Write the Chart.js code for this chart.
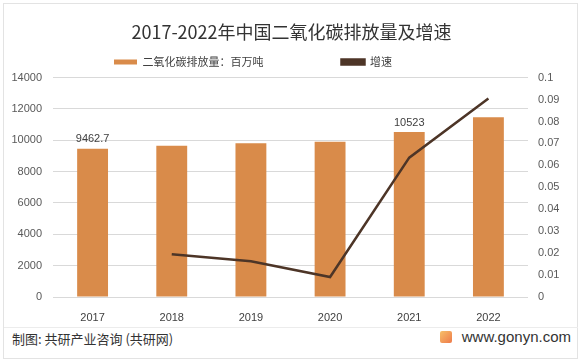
<!DOCTYPE html>
<html>
<head>
<meta charset="utf-8">
<script src="https://cdn.jsdelivr.net/npm/chart.js@4.4.0/dist/chart.umd.min.js"></script>
<style>
  html, body { margin: 0; padding: 0; background: #fff; }
  #wrap { position: relative; width: 583px; height: 364px; overflow: hidden; }
  #frame { position: absolute; left: 3px; top: 3px; width: 575px; height: 356px; border: 1px solid #e3e3e3; box-sizing: border-box; }
  #box { position: absolute; left: 0; top: 0; width: 583px; height: 327px; }
  #sep { position: absolute; left: 4px; right: 5px; top: 327px; border-top: 1px solid #ececec; }
  #src { position: absolute; left: 12px; top: 329px; font: 13px "Noto Sans CJK SC", sans-serif; color: #333; }
  #site { position: absolute; right: 12px; top: 328px; font: 15px "Liberation Sans", Arial, sans-serif; color: #333; }
  #logo { display: inline-block; width: 12px; height: 12px; background: linear-gradient(135deg, #f7c06a, #ee7a4a); border-radius: 2px; margin-right: 10px; vertical-align: -1px; }
</style>
</head>
<body>
<div id="wrap">
  <div id="frame"></div>
  <div id="box"><canvas id="myChart" width="583" height="327"></canvas></div>
  <div id="sep"></div>
  <div id="src">制图: 共研产业咨询 (共研网)</div>
  <div id="site"><span id="logo"></span>www.gonyn.com</div>
</div>
<script>
let years = ['2017', '2018', '2019', '2020', '2021', '2022'];
let emissions = [9462.7, 9652, 9805, 9899, 10523, 11470];
let growth = [null, 0.0195, 0.0163, 0.0091, 0.0635, 0.0905];
let shownLabels = ['9462.7', null, null, null, '10523', null];

// legend gap in the original is wide and the block sits left of centre,
// so pad the label texts with ideographic spaces
let gap = '\u3000'.repeat(6);
let tail = '\u3000'.repeat(7);

let barLabels = {
  id: 'barLabels',
  afterDatasetsDraw(chart) {
    let ctx = chart.ctx;
    let meta = chart.getDatasetMeta(0);
    ctx.save();
    ctx.font = '11px "Liberation Sans", Arial, sans-serif';
    ctx.fillStyle = '#404040';
    ctx.textAlign = 'center';
    ctx.textBaseline = 'bottom';
    meta.data.forEach((bar, i) => {
      if (shownLabels[i]) ctx.fillText(shownLabels[i], bar.x, bar.y - 4);
    });
    ctx.restore();
  }
};

let myChart = document.getElementById('myChart').getContext('2d');

let co2Chart = new Chart(myChart, {
  type: 'bar',
  data: {
    labels: years,
    datasets: [{
      label: '二氧化碳排放量：百万吨' + gap,
      data: emissions,
      backgroundColor: '#d98b4a',
      categoryPercentage: 1,
      barPercentage: 0.39,
      yAxisID: 'y',
      order: 2
    }, {
      type: 'line',
      label: '增速' + tail,
      data: growth,
      borderColor: '#4d3527',
      backgroundColor: '#4d3527',
      borderWidth: 2.5,
      pointRadius: 0,
      tension: 0,
      yAxisID: 'y1',
      order: 1
    }]
  },
  options: {
    responsive: false,
    animation: false,
    plugins: {
      title: {
        display: true,
        text: '2017-2022年中国二氧化碳排放量及增速',
        color: '#333',
        font: { size: 18, family: '"Noto Sans CJK SC"', weight: 'normal' },
        padding: { top: 21, bottom: 2 }
      },
      legend: {
        labels: {
          color: '#404040',
          boxWidth: 23,
          boxHeight: 5,
          padding: 12,
          font: { size: 11, family: '"Noto Sans CJK SC"' },
          sort: (a, b) => a.datasetIndex - b.datasetIndex
        }
      },
      tooltip: { enabled: false }
    },
    scales: {
      x: {
        grid: { display: false },
        border: { display: false },
        ticks: { color: '#404040', font: { size: 11, family: '"Liberation Sans", Arial' }, padding: 6 },
        afterFit(scale) { scale.height = 30; }
      },
      y: {
        position: 'left',
        min: 0, max: 14000,
        ticks: {
          stepSize: 2000, color: '#595959', padding: 11,
          font: { size: 11, family: '"Liberation Sans", Arial' },
          callback: v => String(v)
        },
        grid: { color: '#d9d9d9', drawTicks: false },
        border: { display: false },
        afterFit(scale) { scale.width = 53; }
      },
      y1: {
        position: 'right',
        min: 0, max: 0.1,
        ticks: {
          stepSize: 0.01, autoSkip: false, color: '#595959', padding: 10,
          font: { size: 11, family: '"Liberation Sans", Arial' },
          callback: v => String(Math.round(v * 100) / 100)
        },
        grid: { display: false, drawTicks: false },
        border: { display: false },
        afterFit(scale) { scale.width = 55; }
      }
    }
  },
  plugins: [barLabels]
});
</script>
</body>
</html>
